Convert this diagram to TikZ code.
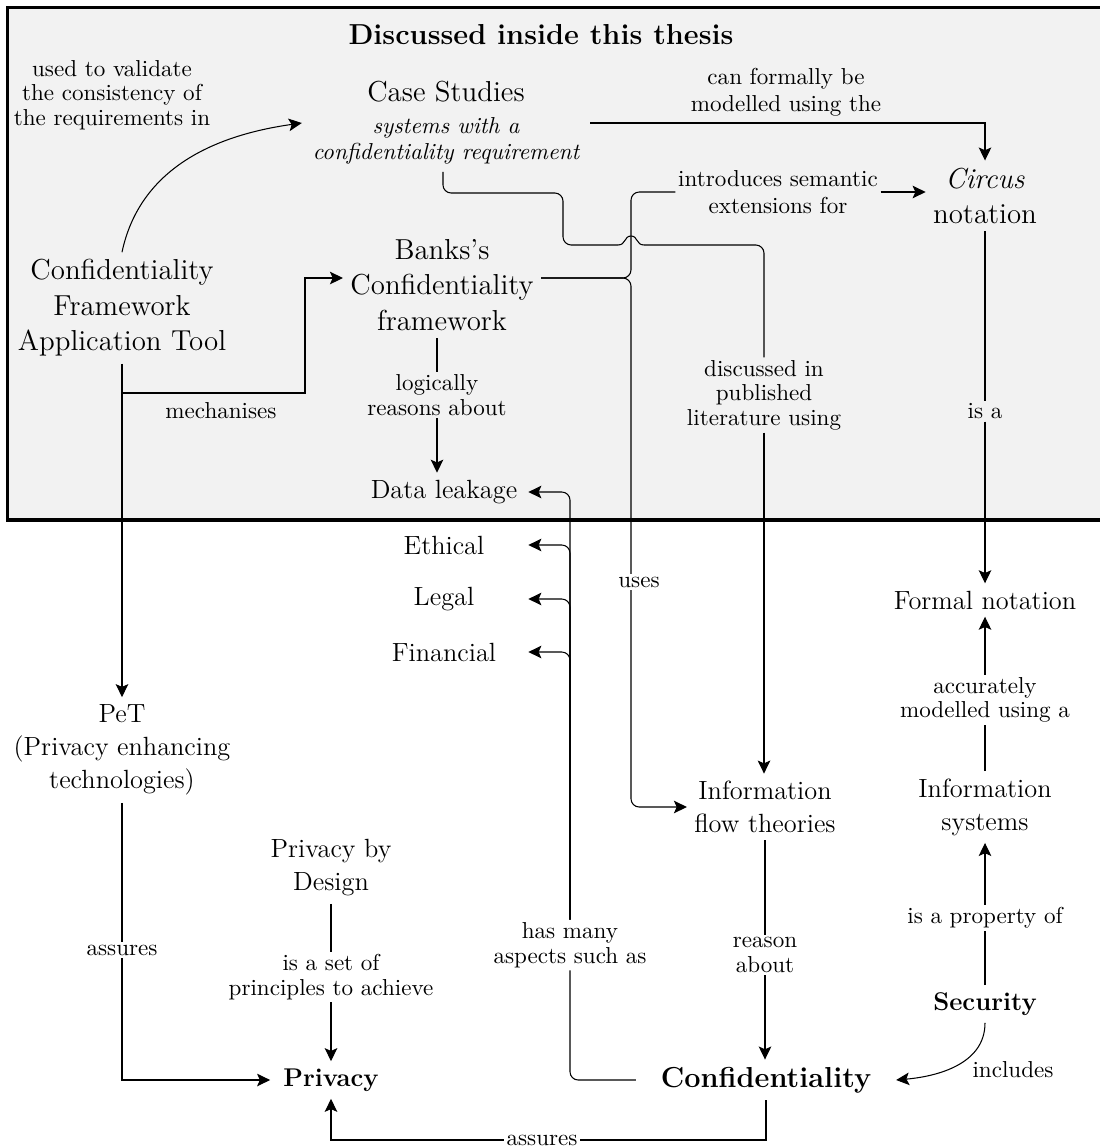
\documentclass[tikz,border=0pt]{standalone}
\usetikzlibrary{arrows.meta}
\newcommand\lblsize{\fontsize{9.9}{10.5}\selectfont}
\newcommand\bigsize{\fontsize{12.4}{15.2}\selectfont}
\newcommand\midsize{\fontsize{11.3}{14.2}\selectfont}
\begin{document}
\begin{tikzpicture}[x=0.4292pt,y=-0.4292pt,
  lbl/.style={font=\lblsize,align=center,inner sep=1pt},
  big/.style={font=\bigsize,align=center,inner sep=3pt},
  mid/.style={font=\midsize,align=center,inner sep=3pt},
  keybig/.style={font=\bigsize\bfseries,inner sep=3pt},
  keymid/.style={font=\fontsize{11}{13}\selectfont\bfseries,inner sep=3pt},
  aspect/.style={mid,minimum width=72pt,inner xsep=0pt},
  conn/.style={line width=0.45pt},
  arr/.style={conn,-{Stealth[length=5.6pt,width=5.4pt,inset=1.2pt]}},
  rc/.style={rounded corners=3.5pt},
]
\useasboundingbox (0,0) rectangle (1099,1148);
\fill[white] (0,0) rectangle (1099,1148);
% region of the work covered by the thesis
\draw[line width=1.4pt,fill=black!5] (7.5,7.5) rectangle (1112,520);
\node[keybig] (title) at (541,35) {Discussed inside this thesis};

% concepts
\node[lbl] (usedto) at (112,95) {used to validate\\the consistency of\\the requirements in};
\node[align=center,font=\lblsize,inner sep=3pt,inner xsep=4.5pt] (case) at (446,123)
  {{\bigsize Case Studies}\\[2.9pt]{\itshape systems with a}\\[1pt]{\itshape confidentiality requirement}};
\node[lbl] (canformally) at (786,92) {can formally be\\[1pt]modelled using the};
\node[big] (circus) at (985,196) {\textit{Circus}\\notation};
\node[lbl] (introduces) at (778,192) {introduces semantic\\[1pt]extensions for};
\node[big] (banks) at (442,285) {Banks's\\Confidentiality\\framework};
\node[big] (tool) at (122,308) {Confidentiality\\Framework\\Application Tool};
\node[lbl] (mech) at (221,411) {mechanises};
\node[lbl] (logically) at (437,395) {logically\\reasons about};
\node[aspect] (leakage) at (444,492) {Data leakage};
\node[lbl] (discussed) at (764,395) {discussed in\\published\\literature using};
\node[lbl] (isa) at (985,411) {is a};
\node[aspect] (ethical) at (444,545) {Ethical};
\node[aspect] (legal) at (444,599) {Legal};
\node[aspect] (financial) at (444,652) {Financial};
\node[lbl] (uses) at (639,582) {uses};
\node[mid] (formal) at (985,600) {Formal notation};
\node[lbl] (accurately) at (985,700) {accurately\\modelled using a};
\node[mid] (infosys) at (985,807) {Information\\systems};
\node[lbl] (property) at (985,918) {is a property of};
\node[keymid] (security) at (985,1004) {Security};
\node[lbl] (includes) at (1013,1070) {includes};
\node[mid] (pet) at (122,750) {PeT\\(Privacy enhancing\\technologies)};
\node[mid] (pbd) at (331,868) {Privacy by\\Design};
\node[lbl] (setof) at (331,977) {is a set of\\principles to achieve};
\node[lbl] (assures1) at (122,950) {assures};
\node[keymid,inner xsep=5.5pt] (privacy) at (331,1080) {Privacy};
\node[lbl] (ma) at (570,945) {has many\\aspects such as};
\node[mid] (infoflow) at (765,807) {Information\\flow theories};
\node[lbl] (reason) at (765,955) {reason\\about};
\node[keybig,inner xsep=10.5pt] (confid) at (766,1080) {Confidentiality};
\node[lbl] (assures2) at (542,1140) {assures};

% junction points
\coordinate (jn) at (631,278);
\coordinate (mbend) at (305,393);
\coordinate (hopL) at (618,245);
\coordinate (hopR) at (644,245);

% links
\draw[arr] (tool.north) to[out=78,in=188] (case.west);
\draw[arr] (case.east) -| (circus.north);
\draw[conn] (circus.south) -- (isa.north);
\draw[arr] (isa.south) -- (isa.south |- formal.north);

\draw[conn,rc] ([xshift=-1.3pt]case.south) |- (563,193) |- (hopL);
\draw[conn] (hopL) .. controls (626,245) and (624,236) .. (631,236)
  .. controls (638,236) and (636,245) .. (hopR);
\draw[conn,rc] (hopR) -| (discussed.north);
\draw[arr] (discussed.south) -- (discussed.south |- infoflow.north);

\draw[conn,rc] ([yshift=3pt]banks.east) -| (631,230) |- (introduces.west);
\draw[conn,rc] ([yshift=3pt]banks.east) -| (uses.north -| jn);
\draw[arr,rc] (uses.south -| jn) |- (infoflow.west);
\draw[arr] (introduces.east) -- (introduces.east -| circus.west);

\draw[conn] (banks.south -| logically.north) -- (logically.north);
\draw[arr] (logically.south) -- (logically.south |- leakage.north);

\draw[arr] (tool.south) |- (mbend) |- ([yshift=3pt]banks.west);
\draw[arr] (tool.south) -- (pet.north);

\draw[conn,rc] (confid.west) -| (ma.south);
\foreach \t in {leakage,ethical,legal,financial}
  \draw[arr,rc] (ma.north) |- (\t.east);

\draw[conn] (infoflow.south) -- (reason.north);
\draw[arr] (reason.south) -- (reason.south |- confid.north);
\draw[conn] (confid.south) |- (assures2.east);
\draw[arr] (assures2.west) -| (privacy.south);
\draw[conn] (pet.south) -- (assures1.north);
\draw[arr] (assures1.south) |- (privacy.west);
\draw[conn] (pbd.south) -- (setof.north);
\draw[arr] (setof.south) -- (setof.south |- privacy.north);
\draw[conn] (security.north) -- (property.south);
\draw[arr] (property.north) -- (infosys.south);
\draw[conn] (infosys.north) -- (accurately.south);
\draw[arr] (accurately.north) -- (formal.south);
\draw[arr] (security.south) to[out=-90,in=5] (confid.east);
\end{tikzpicture}
\end{document}
